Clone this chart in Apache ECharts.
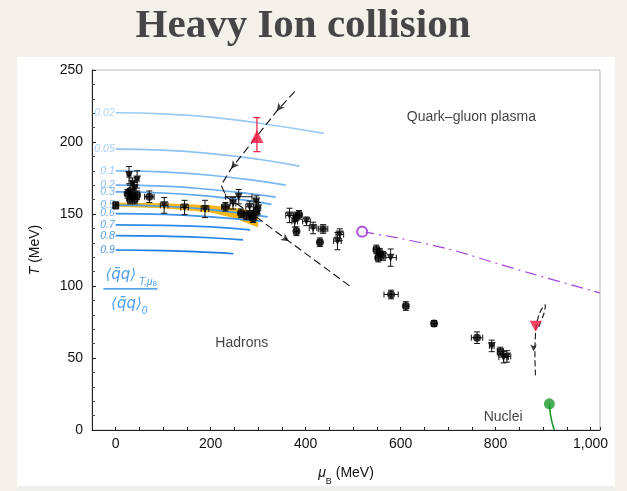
<!DOCTYPE html>
<html><head><meta charset="utf-8">
<script src="https://cdn.jsdelivr.net/npm/echarts@6/dist/echarts.min.js"></script>
<style>html,body{margin:0;padding:0;background:#f3f1ea;}#c{width:627px;height:491px;}</style>
</head><body><div id="c"></div>
<script>
// ---------- data ----------
const xTickLabels = [0, 200, 400, 600, 800, 1000];
const contourLevels = ['0.02','0.05','0.1','0.2','0.3','0.5','0.6','0.7','0.8','0.9'];
const contour002 = [[0,220.3],[100,219.5],[200,217.3],[300,213.2],[438,206]];
const contour005 = [[0,195.1],[100,194.3],[200,191.9],[300,188.0],[387,183.3]];
const contour01  = [[0,180.0],[100,179.2],[200,176.9],[300,173.0],[358,170.0]];
const contour02  = [[0,170.0],[100,169.3],[200,167.0],[300,163.4],[337,161.7]];
const contour03  = [[0,165.4],[100,164.6],[200,162.3],[280,159.3],[328,156.7]];
const contour05  = [[0,156.2],[100,155.4],[200,153.0],[320,148.0]];
const contour06  = [[0,150.3],[100,149.7],[200,148.0],[307,145.0]];
const contour07  = [[0,142.5],[100,142.1],[200,141.0],[283,139.0]];
const contour08  = [[0,135.0],[100,134.6],[200,133.5],[268,132.0]];
const contour09  = [[0,125.0],[100,124.6],[200,123.3],[248,122.4]];
const contourLines = [contour002,contour005,contour01,contour02,contour03,contour05,contour06,contour07,contour08,contour09];

const bandUpper = [[0,158],[100,157.5],[200,156],[300,152]];
const bandLower = [[0,155],[100,154],[200,151],[250,147],[300,140.7]];

// [muB, T, errMu, errT]
const circlePoints = [
  [30,166,4,4],[25,164,5,3],[35,163,5,3],[45,163,5,3],[30,160,5,3],[40,160,5,3],[70.8,162,10,4],
  [231,155,8,3],[264,150.5,6,3],[275,149,6,3],[285.5,149.4,6,3],[289,147.1,6,3],[296,151.7,6,3],
  [380.6,148.3,6,3],[386,149.4,6,3],[380.6,138,5,3],[430,130.4,4,3],
  [549,125.4,6,3],[556,123.1,6,3],[553,119.7,6,3],
  [580,94.1,15,3],[611,86.1,5,3],[670.5,73.9,5,2],[761,64.1,12,4]
];
const downTrianglePoints = [
  [28,177,4,6],[45,174,4,6],[35,171,3,4],[40,168,3,4],
  [102,156,8,5.5],[145,154.5,8,5],[188,153.5,8,6],
  [247,157.4,6,4],[259,162,28,5],[282,155,8,4],[299.5,154,6,4],[296,158.6,5,4],
  [366,149,8,5],[377,144.9,6,4],[401.7,144.9,8,3],[415.6,140.3,8,4],[472,135.7,8,4],[467,131.2,8,6],
  [563,120.9,6,3],[579,119.7,12,6],
  [792,58.4,5,4],[817,50.6,10,4],[824,51.1,8,4]
];
const squarePoints = [[0,156,5,2.5],[436.7,139.6,10,3],[810,54.5,6,3]];

const criticalPoint = [297.4,203.8];      // red triangle
const criticalErr = [193.3,216.9];        // T range
const nuclearPoint = [884.5,72.1];        // red inverted triangle
const trajectory = [[377,235],[339,221.4],[243,181.4],[222,170],[233,162],[300,147],[365,131],[493,100]];
const trajectoryArrows = [[339,221.4],[243,181.4],[365,131]];
const arrowAngles = [142,142,235];
const nuclearPath = [[884,38],[883,52],[884,66],[888,76],[897,84],[905,87],[903,82],[896,76],[889,70]];
const nuclearArrow = [[880,54.5]];
const purpleLine = [[519,137.7],[600,133],[704,125.4],[800,116],[880,108.2],[1020,95.2]];
const purpleStart = [519,137.7];
const greenLine = [[913.4,18.2],[916,10],[920,4],[924,0]];
const greenPoint = [913.4,18.2];

const regionNames = ['Quark–gluon plasma','Hadrons','Nuclei'];
const regionPos = [[749,217],[265.5,60],[816,8.6]];
const fractionNumPos = [32.7,106];
const fractionDenPos = [28.5,86];
const fractionBar = [[-26,98],[88,98]];

// ---------- styles ----------
const contourColors = ['#9ccaf5','#8ec2f3','#7db8f1','#6daff0','#5ea7ee','#4d9dec','#3e94ea','#2f8be8','#2383e6','#1a7be4'];
const ink = '#111';

const errSeries = (pts, color) => ({
  type:'custom', z:3, silent:true,
  data: pts,
  renderItem:(params, api)=>{
    const mu=api.value(0), T=api.value(1), dm=api.value(2), dT=api.value(3);
    const l=api.coord([mu-dm,T]), r=api.coord([mu+dm,T]), t=api.coord([mu,T+dT]), b=api.coord([mu,T-dT]);
    const c=3, st={stroke:color,lineWidth:1};
    const ch=[];
    if (dm>0){
      ch.push({type:'line',shape:{x1:l[0],y1:l[1],x2:r[0],y2:r[1]},style:st});
      ch.push({type:'line',shape:{x1:l[0],y1:l[1]-c,x2:l[0],y2:l[1]+c},style:st});
      ch.push({type:'line',shape:{x1:r[0],y1:r[1]-c,x2:r[0],y2:r[1]+c},style:st});
    }
    ch.push({type:'line',shape:{x1:t[0],y1:t[1],x2:b[0],y2:b[1]},style:st});
    ch.push({type:'line',shape:{x1:t[0]-c,y1:t[1],x2:t[0]+c,y2:t[1]},style:st});
    ch.push({type:'line',shape:{x1:b[0]-c,y1:b[1],x2:b[0]+c,y2:b[1]},style:st});
    return {type:'group',children:ch};
  }
});

const series = [];
// yellow band
series.push({
  type:'custom', z:1, silent:true, data:[[0,150]],
  renderItem:(params, api)=>{
    const pts = bandUpper.map(p=>api.coord(p)).concat(bandLower.slice().reverse().map(p=>api.coord(p)));
    return {type:'polygon', shape:{points:pts}, style:{fill:'#f7b718'}};
  }
});
// contour lines
contourLines.forEach((d,i)=>{
  series.push({type:'line', z:2, data:d, smooth:0.5, showSymbol:false, silent:true,
    lineStyle:{color:contourColors[i], width:1.7}});
  series.push({type:'scatter', z:2, data:[d[0]], symbolSize:0, silent:true,
    label:{show:true, position:'left', distance:1, formatter:contourLevels[i],
      color:contourColors[i], fontStyle:'italic', fontSize:10.5, fontFamily:'Liberation Sans'}});
});
// trajectory
series.push({type:'line', z:4, data:trajectory, showSymbol:false, silent:true,
  lineStyle:{color:'#111', width:1.1, type:[8,4]}});
series.push({type:'scatter', z:4, silent:true,
  data: trajectoryArrows.map((p,i)=>({value:p, symbolRotate:arrowAngles[i]})),
  symbol:'arrow', symbolSize:[6,8], itemStyle:{color:'#111'}});
series.push({type:'line', z:4, data:nuclearPath, smooth:0.4, showSymbol:false, silent:true,
  lineStyle:{color:'#111', width:1.1, type:[6,3]}});
series.push({type:'scatter', z:4, silent:true,
  data: nuclearArrow.map(p=>({value:p, symbolRotate:180})),
  symbol:'arrow', symbolSize:[5,7], itemStyle:{color:'#111'}});
// purple
series.push({type:'line', z:4, data:purpleLine, smooth:0.3, showSymbol:false, silent:true,
  lineStyle:{color:'#a445dc', width:1.2, type:[12,5,2,5]}});
series.push({type:'scatter', z:5, data:[purpleStart], symbol:'circle', symbolSize:10, silent:true,
  itemStyle:{color:'#fff', borderColor:'#9b30d6', borderWidth:2.2}});
// green
series.push({type:'line', z:4, data:greenLine, smooth:0.4, showSymbol:false, silent:true,
  lineStyle:{color:'#1c9a2a', width:1.6}});
series.push({type:'scatter', z:5, data:[greenPoint], symbol:'circle', symbolSize:11, silent:true,
  itemStyle:{color:'#1c9a2a'}});
// error bars + points
series.push(errSeries(circlePoints, ink));
series.push(errSeries(downTrianglePoints, ink));
series.push(errSeries(squarePoints, ink));
series.push({type:'scatter', z:5, data:circlePoints.map(p=>[p[0],p[1]]), symbol:'circle', symbolSize:8, silent:true, itemStyle:{color:'#000'}});
series.push({type:'scatter', z:5, data:downTrianglePoints.map(p=>[p[0],p[1]]), symbol:'triangle', symbolRotate:180, symbolSize:8, silent:true, itemStyle:{color:'#000'}});
series.push({type:'scatter', z:5, data:squarePoints.map(p=>[p[0],p[1]]), symbol:'rect', symbolSize:7, silent:true, itemStyle:{color:'#000'}});
// critical point
series.push({
  type:'custom', z:5, silent:true, data:[[criticalPoint[0], criticalErr[0], criticalErr[1]]],
  renderItem:(params, api)=>{
    const b=api.coord([api.value(0),api.value(1)]), t=api.coord([api.value(0),api.value(2)]);
    const st={stroke:'#f0173f',lineWidth:1.2}, c=3.5;
    return {type:'group',children:[
      {type:'line',shape:{x1:t[0],y1:t[1],x2:b[0],y2:b[1]},style:st},
      {type:'line',shape:{x1:t[0]-c,y1:t[1],x2:t[0]+c,y2:t[1]},style:st},
      {type:'line',shape:{x1:b[0]-c,y1:b[1],x2:b[0]+c,y2:b[1]},style:st}]};
  }
});
series.push({type:'scatter', z:6, data:[criticalPoint], symbol:'triangle', symbolSize:[13,13], silent:true, itemStyle:{color:'#f0173f'}});
series.push({type:'scatter', z:6, data:[nuclearPoint], symbol:'triangle', symbolRotate:180, symbolSize:[12,11], silent:true, itemStyle:{color:'#f0173f'}});
// region names
series.push({type:'scatter', z:6, silent:true, symbolSize:0,
  data: regionPos.map((p,i)=>({value:p, name:regionNames[i]})),
  label:{show:true, position:'inside', formatter:'{b}', color:'#111', fontSize:14, fontFamily:'Liberation Sans'}});
// fraction
const fracRich = {
  a:{color:'#1f86e8', fontSize:15, fontStyle:'italic', fontFamily:'DejaVu Sans', lineHeight:20, verticalAlign:'top'},
  s:{color:'#1f86e8', fontSize:10, fontStyle:'italic', fontFamily:'Liberation Sans', lineHeight:8, verticalAlign:'bottom'},
  b:{color:'#1f86e8', fontSize:7, fontFamily:'Liberation Sans', lineHeight:4, verticalAlign:'bottom'}
};
series.push({type:'scatter', z:6, silent:true, symbolSize:0,
  data:[{value:fractionNumPos, label:{formatter:'{a|⟨q̄q⟩}{s| T,μ}{b|B}'}},
        {value:fractionDenPos, label:{formatter:'{a|⟨q̄q⟩}{s|0}'}}],
  label:{show:true, position:'inside', rich:fracRich}});
series.push({type:'line', z:6, data:fractionBar, showSymbol:false, silent:true, lineStyle:{color:'#1f86e8', width:1.3}});

const chart = echarts.init(document.getElementById('c'));
chart.setOption({
  animation:false,
  backgroundColor:'transparent',
  graphic:[
    {type:'rect', shape:{x:17,y:57,width:598,height:429}, style:{fill:'#ffffff'}, z:-10},
    {type:'rect', shape:{x:17,y:486,width:598,height:5}, style:{fill:'#efefed'}, z:-10},
    {type:'text', x:303, y:26, style:{text:'Heavy Ion collision', fill:'#464646', font:'bold 41px "Liberation Serif"', align:'center', verticalAlign:'middle'}}
  ],
  grid:{left:92, right:27, top:70, bottom:57, show:true, borderColor:'#b8b8b8', borderWidth:1, backgroundColor:'transparent'},
  xAxis:{type:'value', min:-50, max:1020, interval:50,
    name:'{i|μ}{s|B}{n| (MeV)}', nameLocation:'middle', nameGap:36,
    nameTextStyle:{rich:{
      i:{fontStyle:'italic', fontSize:14, fontFamily:'Liberation Sans', color:'#111', lineHeight:20, verticalAlign:'top'},
      s:{fontSize:9, fontFamily:'Liberation Sans', color:'#111', lineHeight:8, verticalAlign:'bottom'},
      n:{fontSize:14, fontFamily:'Liberation Sans', color:'#111', lineHeight:20, verticalAlign:'top'}}},
    axisLine:{onZero:false, lineStyle:{color:'#222', width:1}},
    axisTick:{inside:true, length:3, lineStyle:{color:'#222'}},
    splitLine:{show:false},
    axisLabel:{margin:7, fontSize:14, fontFamily:'Liberation Sans', color:'#111', showMaxLabel:true, showMinLabel:true,
      formatter:v => xTickLabels.indexOf(v) >= 0 ? v.toLocaleString('en-US') : ''}
  },
  yAxis:{type:'value', min:0, max:250, interval:50,
    name:'{i|T}{n| (MeV)}', nameLocation:'middle', nameGap:50, nameRotate:90,
    nameTextStyle:{rich:{
      i:{fontStyle:'italic', fontSize:14, fontFamily:'Liberation Sans', color:'#111'},
      n:{fontSize:14, fontFamily:'Liberation Sans', color:'#111'}}},
    axisLine:{show:true, onZero:false, lineStyle:{color:'#222', width:1}},
    axisTick:{show:true, inside:true, length:4, lineStyle:{color:'#222'}},
    minorTick:{show:true, splitNumber:5, length:3, lineStyle:{color:'#444'}},
    splitLine:{show:false},
    axisLabel:{margin:9, fontSize:14, fontFamily:'Liberation Sans', color:'#111'}
  },
  series: series
});
</script></body></html>
